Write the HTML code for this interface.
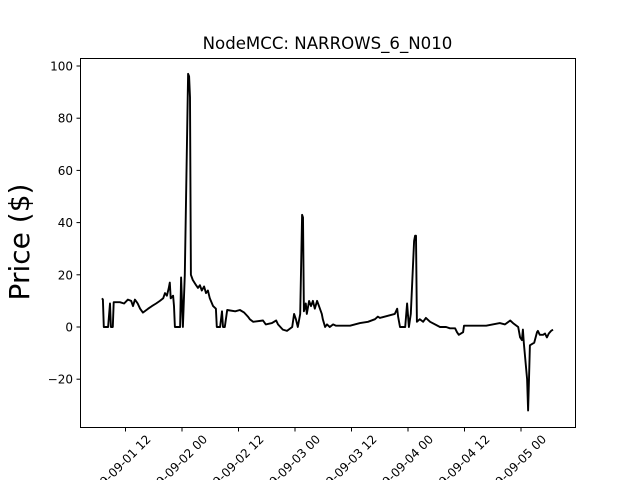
<!DOCTYPE html>
<html><head><meta charset="utf-8"><style>
body{margin:0;background:#fff}
text{font-family:"DejaVu Sans","Liberation Sans",sans-serif;fill:#000}
</style></head><body>
<svg id="chart" width="640" height="480" viewBox="0 0 640 480" xmlns="http://www.w3.org/2000/svg">
<rect x="0" y="0" width="640" height="480" fill="#fff"/>
<text x="327.5" y="49" font-size="16.6" text-anchor="middle">NodeMCC: NARROWS_6_N010</text>
<text transform="translate(29,242) rotate(-90)" font-size="28" text-anchor="middle">Price ($)</text>
<g id="plot"></g>
<rect x="80.5" y="58.5" width="495" height="369" fill="none" stroke="#000" stroke-width="1"/>
</svg>
<script>
const hours = [7.0,7.2,7.4,8.3,8.7,8.9,9.3,9.5,10.8,11.7,12.5,13.2,13.6,14.0,14.4,14.6,15.1,15.7,16.8,17.6,18.5,19.3,20.0,20.4,20.8,21.2,21.4,21.6,22.1,22.3,22.5,23.6,23.8,24.2,24.6,25.3,25.5,25.7,25.9,26.3,27.0,27.4,27.8,28.2,28.7,29.1,29.5,29.9,30.6,31.2,31.4,32.1,32.5,32.7,33.1,33.6,35.3,36.3,37.2,38.0,38.4,39.1,41.2,41.8,43.1,44.0,44.4,45.4,46.3,47.4,47.8,48.2,48.6,49.1,49.5,49.7,49.9,50.3,50.5,51.0,51.4,51.8,52.2,52.7,53.1,53.7,53.9,54.4,54.8,55.4,56.1,56.7,59.7,60.7,61.8,63.5,65.0,65.6,66.0,69.2,69.7,69.9,70.3,71.4,71.8,72.2,72.6,73.3,73.5,73.7,73.9,74.5,75.2,75.8,76.7,78.8,80.1,80.9,82.0,82.4,82.8,83.7,83.9,85.2,86.9,88.6,91.5,92.6,93.7,94.3,95.4,95.8,96.2,96.4,96.6,97.3,97.5,97.7,97.9,98.8,99.4,99.6,100.0,100.7,101.1,101.5,101.9,102.4,102.8];
const prices = [11,10.5,0,0,9,0,0,9.5,9.5,9,10.5,10,8,10.5,9.5,9,7,5.5,7,8,9,10,11,13,12,15,17,11,12,8,0,0,19,0,20,97,96,88,20,18,16,15,16,14,15.5,13,14,11,8,7,0,0,6,0,0,6.5,6,6.5,5.5,4,3,2,2.5,1,1.5,2.5,1,-1,-1.5,0,5,3,0,5,43,42,6,9,5,10,8,10,7,10,8,5,3,0,1,0,1,0.5,0.5,1,1.5,2,3,4,3.5,5,7,4,0,0,9,0,5,33,35,35,2,3,2,3.5,2,0,0,-0.5,-0.5,-2,-3,-2,0.5,0.5,0.5,0.5,1.5,1,2.5,1.5,0,-4,-5,-1,-6,-20,-32,-20,-7,-6,-2,-1.5,-3,-3,-2.5,-4,-2.5,-1.5,-1];
const yTicks = [-20,0,20,40,60,80,100];
const xTickHours = [12,24,36,48,60,72,84,96];
const xTickLabels = ["2019-09-01 12","2019-09-02 00","2019-09-02 12","2019-09-03 00","2019-09-03 12","2019-09-04 00","2019-09-04 12","2019-09-05 00"];

const NS="http://www.w3.org/2000/svg";
const g=document.getElementById('plot');
function xS(t){return 125.5+(t-12)*(56.5/12);}
function yS(v){return 327-v*(261/100);}
function mk(tag,attrs){const e=document.createElementNS(NS,tag);for(const k in attrs)e.setAttribute(k,attrs[k]);g.appendChild(e);return e;}

yTicks.forEach(v=>{
  const y=yS(v);
  const tk=mk('line',{x1:76.5,x2:80.5,y1:y,y2:y,stroke:'#000','stroke-width':1});
  
  
  const tx=mk('text',{x:73,y:y+4.5,'font-size':12,'text-anchor':'end'});
  tx.textContent=v<0?'\u2212'+Math.abs(v):String(v);
  
  
});
xTickHours.forEach((t,i)=>{
  const x=xS(t);
  const tk=mk('line',{x1:x,x2:x,y1:427.5,y2:431.5,stroke:'#000','stroke-width':1});
  
  
  const ax=x+26, ay=440;
  const tx=mk('text',{x:ax,y:ay,'font-size':12,'text-anchor':'end',transform:`rotate(-45 ${ax} ${ay})`});
  tx.textContent=xTickLabels[i];
  
  
});
const pts=hours.map((t,i)=>xS(t).toFixed(1)+','+yS(prices[i]).toFixed(1)).join(' ');
const line=mk('polyline',{points:pts,fill:'none',stroke:'#000','stroke-width':1.9,'stroke-linejoin':'round'});


</script>
</body></html>
